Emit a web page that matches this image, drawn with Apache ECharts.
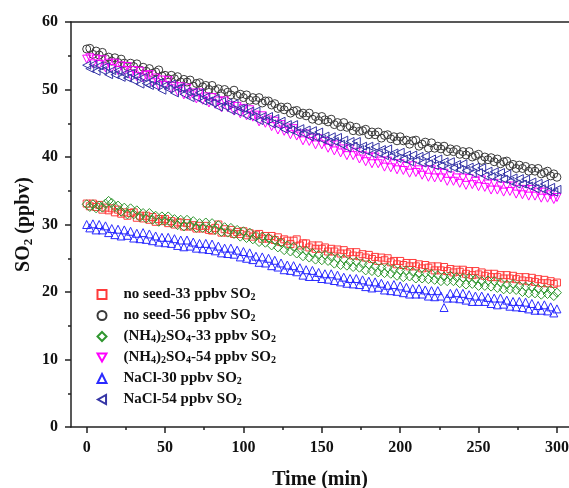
<!DOCTYPE html>
<html>
<head>
<meta charset="utf-8">
<script src="https://cdn.jsdelivr.net/npm/echarts@6/dist/echarts.min.js"></script>
<style>html,body{margin:0;padding:0;background:#fff}#c{width:569px;height:488px}</style>
</head>
<body>
<div id="c"></div>
<script>
// time (min)
var times = [0,2,4,6,8,10,12,14,16,18,20,22,24,26,28,30,32,34,36,38,40,42,44,46,48,50,52,54,56,58,60,62,64,66,68,70,72,74,76,78,80,82,84,86,88,90,92,94,96,98,100,102,104,106,108,110,112,114,116,118,120,122,124,126,128,130,132,134,136,138,140,142,144,146,148,150,152,154,156,158,160,162,164,166,168,170,172,174,176,178,180,182,184,186,188,190,192,194,196,198,200,202,204,206,208,210,212,214,216,218,220,222,224,226,228,230,232,234,236,238,240,242,244,246,248,250,252,254,256,258,260,262,264,266,268,270,272,274,276,278,280,282,284,286,288,290,292,294,296,298,300];

// no seed-33 ppbv SO2
var noSeed33 = [33.1,32.7,33.1,32.6,32.9,32.2,32.5,32.1,32.4,31.8,
32.2,31.6,31.8,31.3,31.7,31.8,31.0,31.3,30.9,31.3,
30.7,31.1,30.4,30.8,30.5,30.8,30.2,30.5,30.0,30.3,
30.3,29.7,30.2,29.7,29.9,29.4,29.8,29.4,29.8,29.2,
29.1,29.5,30.0,28.8,29.3,28.8,29.2,28.6,28.9,28.6,
29.0,28.4,28.7,28.2,28.5,28.6,27.9,28.3,27.9,28.3,
27.7,28.1,27.4,27.8,27.6,27.1,27.6,27.8,26.9,27.2,
27.2,26.6,26.9,26.4,26.9,26.4,26.6,26.0,26.4,26.0,
26.3,25.7,26.2,25.7,25.9,25.4,25.9,25.3,25.6,25.1,
25.5,24.9,25.2,24.6,25.1,24.7,25.0,24.4,24.6,24.1,
24.6,24.0,24.3,23.8,24.3,23.8,24.1,23.5,24.0,23.6,
23.8,23.2,23.8,23.2,23.7,23.1,23.4,22.9,23.3,23.0,
23.3,22.7,23.1,22.5,23.1,22.6,22.9,22.4,22.7,22.2,
22.7,22.2,22.5,22.0,22.5,22.0,22.4,21.9,22.2,21.7,
22.2,21.6,22.1,21.5,21.9,21.3,21.8,21.3,21.6,21.2,
21.4];

// no seed-56 ppbv SO2
var noSeed56 = [56.0,56.1,55.2,55.7,55.1,55.5,54.6,54.8,54.2,54.7,
54.0,54.5,53.9,53.4,53.9,53.4,53.8,52.9,53.3,52.7,
53.1,52.4,52.6,52.9,52.0,52.1,51.6,52.1,51.6,51.9,
51.1,51.5,51.1,51.4,50.5,50.9,51.0,50.4,50.6,50.0,
50.6,49.9,50.1,49.4,50.0,49.6,49.2,49.9,49.1,49.3,
48.8,49.2,48.4,48.8,48.4,48.8,48.0,48.3,48.3,47.7,
47.9,47.2,47.4,47.0,47.4,46.5,46.8,46.9,46.3,46.5,
46.1,46.5,45.6,46.0,45.4,46.0,45.5,45.2,45.6,44.8,
45.1,44.5,45.1,44.4,44.6,43.9,44.4,43.8,43.9,44.1,
43.3,43.7,43.3,43.7,42.8,43.2,43.3,42.7,43.0,42.4,
43.0,42.4,42.5,41.9,42.4,42.5,41.6,41.9,42.2,41.3,
42.1,41.3,41.6,41.2,41.6,40.8,41.2,40.8,41.1,40.4,
40.8,40.3,40.8,40.0,40.2,40.4,39.5,40.0,39.6,39.9,
39.3,39.7,39.0,39.3,39.4,38.7,38.9,38.3,38.8,38.3,
38.6,37.9,38.3,37.9,38.3,37.5,37.7,37.9,37.2,37.5,
37.0];

// (NH4)2SO4-33 ppbv SO2
var as33 = [33.0,32.6,33.0,32.4,32.8,32.5,33.1,33.5,33.2,32.6,
32.8,31.9,32.5,31.5,32.4,31.5,32.1,31.1,31.7,30.9,
31.7,30.7,31.3,30.4,31.2,30.5,31.2,30.2,30.8,29.9,
30.7,29.7,30.7,29.8,30.5,29.5,30.2,29.5,30.3,29.4,
30.2,29.2,29.9,28.9,29.6,28.8,29.5,28.6,29.2,28.2,
29.0,28.0,28.8,27.8,28.3,27.4,28.2,27.3,28.0,26.9,
27.7,26.6,27.3,26.2,26.9,26.0,26.7,25.7,26.2,25.3,
26.1,25.1,25.8,24.8,25.5,24.7,25.5,24.6,25.2,24.2,
25.0,24.0,24.9,23.9,24.5,23.7,24.5,23.6,24.2,23.2,
24.1,23.1,23.8,22.9,23.6,22.8,23.6,22.7,23.4,22.4,
23.2,22.2,23.2,22.3,23.0,22.0,22.7,22.0,22.8,21.9,
22.7,21.8,22.5,21.6,22.3,21.6,22.4,21.6,22.2,21.3,
22.1,21.1,22.1,21.2,21.9,20.9,21.6,20.9,21.7,20.8,
21.6,20.6,21.4,20.4,21.1,20.4,21.2,20.3,20.9,20.0,
20.8,19.8,20.8,19.8,20.5,19.6,20.4,19.7,20.3,19.4,
19.9];

// (NH4)2SO4-54 ppbv SO2
var as54 = [54.5,54.7,53.8,54.5,53.7,54.4,53.2,53.9,53.1,53.9,
52.8,53.5,52.8,53.4,52.1,52.8,51.9,52.7,51.7,52.1,
52.2,51.0,51.7,50.6,51.4,50.6,51.3,50.1,50.5,49.7,
50.4,49.2,50.2,49.2,49.5,48.6,49.5,48.4,48.9,48.0,
48.8,47.8,48.3,47.3,48.3,47.3,47.6,46.8,47.5,46.4,
47.2,46.1,47.0,45.9,46.2,45.2,46.1,45.0,45.5,44.5,
45.3,44.0,44.8,43.8,44.3,43.3,44.2,43.1,43.4,42.4,
43.4,42.3,42.8,41.8,42.7,41.8,42.3,41.3,41.8,40.9,
41.8,40.6,41.2,40.2,41.2,40.2,40.7,39.7,40.2,39.3,
40.0,39.0,40.0,39.0,39.4,38.5,39.4,38.4,39.0,38.1,
39.0,38.0,38.6,37.6,38.7,37.7,38.1,37.3,38.1,37.0,
38.1,36.9,37.7,36.9,37.6,36.4,37.2,36.4,36.9,36.1,
36.9,35.8,36.8,35.9,36.4,35.6,36.6,35.5,36.0,35.1,
36.1,35.1,35.7,34.8,35.7,34.9,35.7,34.5,35.2,34.4,
35.2,34.2,35.2,34.2,34.8,33.9,34.8,33.9,34.4,33.7,
34.0];

// NaCl-30 ppbv SO2
var nacl30 = [30.0,29.5,30.1,29.2,30.0,29.2,29.8,28.8,29.4,28.5,
29.3,28.3,29.2,28.4,29.0,28.0,28.7,27.9,28.8,27.8,
28.6,27.6,28.3,27.4,28.1,27.3,28.1,27.2,27.9,26.9,
27.7,26.7,27.7,26.8,27.4,26.5,27.2,26.4,27.2,26.3,
27.1,26.1,26.8,25.8,26.5,25.7,26.5,25.6,26.2,25.2,
26.0,25.0,25.8,24.8,25.3,24.4,25.2,24.3,25.0,23.9,
24.7,23.7,24.3,23.3,24.0,23.2,23.9,23.0,23.6,22.5,
23.3,22.3,23.2,22.3,22.9,22.0,22.7,21.9,22.7,21.7,
22.5,21.5,22.2,21.3,22.0,21.2,22.0,21.1,21.8,20.8,
21.6,20.6,21.5,20.7,21.3,20.3,21.0,20.2,21.1,20.1,
20.9,19.9,20.7,19.7,20.5,19.7,20.5,19.7,20.3,19.4,
20.2,19.3,20.2,19.4,17.7,19.1,19.8,19.1,19.9,19.0,
19.8,18.8,19.6,18.6,19.4,18.6,19.4,18.6,19.2,18.3,
19.1,18.1,19.1,18.2,18.8,17.9,18.6,17.8,18.6,17.7,
18.5,17.5,18.3,17.3,18.0,17.3,18.1,17.2,17.8,16.9,
17.5];

// NaCl-54 ppbv SO2
var nacl54 = [53.6,53.1,53.7,52.7,53.5,52.8,53.4,52.2,52.8,52.2,
52.8,51.8,52.3,51.7,52.4,51.3,51.9,50.8,51.8,50.9,
50.6,51.4,50.5,51.0,49.9,50.6,50.1,50.8,49.5,50.2,
50.3,49.3,49.7,48.8,49.6,48.8,49.5,48.3,48.9,48.3,
48.0,48.7,47.4,48.2,47.5,48.0,46.9,47.9,46.7,47.2,
47.2,46.1,46.8,45.9,46.8,45.4,46.0,45.4,46.0,44.9,
45.7,44.7,45.3,44.1,44.8,44.0,44.8,43.6,44.2,43.5,
44.0,43.0,43.9,42.9,43.7,42.6,43.1,42.2,43.0,42.3,
42.9,41.9,42.5,41.4,42.3,41.6,42.3,41.1,41.6,40.9,
41.6,40.5,41.5,40.6,41.1,40.2,41.2,40.1,40.6,39.8,
40.7,39.7,40.3,39.3,40.3,39.5,40.1,39.1,40.1,39.0,
39.7,38.7,39.7,38.7,39.3,38.3,39.3,38.4,38.9,38.1,
39.0,38.0,38.5,37.6,38.5,37.7,38.4,37.2,37.9,37.1,
37.8,36.8,37.7,36.7,37.5,36.4,36.9,36.0,36.8,36.0,
36.7,35.7,36.3,35.3,36.1,35.3,36.0,34.9,35.5,34.8,
35.2];

var xTicks = [0,50,100,150,200,250,300];
var xMinorTicks = [25,75,125,175,225,275];

var seriesNames = ['no seed-33 ppbv SO2','no seed-56 ppbv SO2','(NH4)2SO4-33 ppbv SO2','(NH4)2SO4-54 ppbv SO2','NaCl-30 ppbv SO2','NaCl-54 ppbv SO2'];
var legendRich = {
  'no seed-33 ppbv SO2': '{n|no seed-33 ppbv SO}{s|2}',
  'no seed-56 ppbv SO2': '{n|no seed-56 ppbv SO}{s|2}',
  '(NH4)2SO4-33 ppbv SO2': '{n|(NH}{s|4}{n|)}{s|2}{n|SO}{s|4}{n|-33 ppbv SO}{s|2}',
  '(NH4)2SO4-54 ppbv SO2': '{n|(NH}{s|4}{n|)}{s|2}{n|SO}{s|4}{n|-54 ppbv SO}{s|2}',
  'NaCl-30 ppbv SO2': '{n|NaCl-30 ppbv SO}{s|2}',
  'NaCl-54 ppbv SO2': '{n|NaCl-54 ppbv SO}{s|2}'
};

var colors = ['#ff3b3b','#3a3a3a','#2f962f','#ff00ff','#2a2aff','#3636a6'];
var symbols = ['rect','circle','diamond','path://M0,0 L2,0 L1,1.8 Z','triangle','path://M1.8,0 L1.8,2 L0,1 Z'];
var sizes = [7,8,9,8,8,8];
var dataSets = [noSeed33, noSeed56, as33, as54, nacl30, nacl54];

function pairs(vals){ return vals.map(function(v,i){ return [times[i], v]; }); }

var FONT = 'Liberation Serif';
var series = dataSets.map(function(d, k){
  return {
    name: seriesNames[k], type: 'scatter', xAxisIndex: 0, yAxisIndex: 0,
    data: pairs(d), symbol: symbols[k], symbolSize: sizes[k],
    itemStyle: {color: 'rgba(255,255,255,0)', borderColor: colors[k], borderWidth: 1, opacity: 1},
    silent: true, animation: false
  };
});

var chart = echarts.init(document.getElementById('c'), null, {renderer: 'canvas'});
chart.setOption({
  animation: false,
  color: colors,
  grid: {left: 71, top: 22, right: 0, height: 405, containLabel: false, outerBoundsMode: 'none'},
  legend: {
    orient: 'vertical', left: 96.5, top: 287, padding: 0, itemGap: 5.5, itemWidth: 9, itemHeight: 9,
    data: seriesNames,
    formatter: function(name){ return legendRich[name]; },
    textStyle: {
      padding: [0,0,0,12],
      rich: {
        n: {fontFamily: FONT, fontWeight: 'bold', fontSize: 15, color: '#111', lineHeight: 16},
        s: {fontFamily: FONT, fontWeight: 'bold', fontSize: 10, color: '#111', lineHeight: 8, verticalAlign: 'bottom'}
      }
    }
  },
  xAxis: [
    {type: 'value', min: -10, max: 307.7, position: 'bottom',
     name: 'Time (min)', nameLocation: 'middle', nameGap: 43,
     nameTextStyle: {fontFamily: FONT, fontWeight: 'bold', fontSize: 20, color: '#111'},
     axisLine: {show: true, onZero: false, lineStyle: {color: '#222', width: 1.5}},
     axisTick: {show: true, length: 6, customValues: xTicks, lineStyle: {color: '#222', width: 1.5}},
     axisLabel: {customValues: xTicks, margin: 13, fontFamily: FONT, fontWeight: 'bold', fontSize: 16, color: '#111'},
     splitLine: {show: false}},
    {type: 'value', min: -10, max: 307.7, position: 'bottom',
     axisLine: {show: false},
     axisTick: {show: true, length: 3, customValues: xMinorTicks, lineStyle: {color: '#222', width: 1.5}},
     axisLabel: {show: false}, splitLine: {show: false}},
    {type: 'value', min: -10, max: 307.7, position: 'top',
     axisLine: {show: true, lineStyle: {color: '#222', width: 1.5}},
     axisTick: {show: false}, axisLabel: {show: false}, splitLine: {show: false}}
  ],
  yAxis: [
    {type: 'value', min: 0, max: 60, interval: 10, position: 'left',
     name: '{n|SO}{s|2}{n| (ppbv)}', nameLocation: 'middle', nameGap: 36, nameRotate: 90, nameMoveOverlap: false,
     nameTextStyle: {
       rich: {
         n: {fontFamily: FONT, fontWeight: 'bold', fontSize: 20, color: '#111', lineHeight: 22},
         s: {fontFamily: FONT, fontWeight: 'bold', fontSize: 13, color: '#111', lineHeight: 12, verticalAlign: 'bottom'}
       }
     },
     axisLine: {show: true, onZero: false, lineStyle: {color: '#222', width: 1.5}},
     axisTick: {show: true, length: 6, lineStyle: {color: '#222', width: 1.5}},
     minorTick: {show: true, splitNumber: 2, length: 3, lineStyle: {color: '#222', width: 1.5}},
     axisLabel: {margin: 13, fontFamily: FONT, fontWeight: 'bold', fontSize: 16, color: '#111'},
     splitLine: {show: false}, minorSplitLine: {show: false}}
  ],
  series: series
});
</script>
</body>
</html>
